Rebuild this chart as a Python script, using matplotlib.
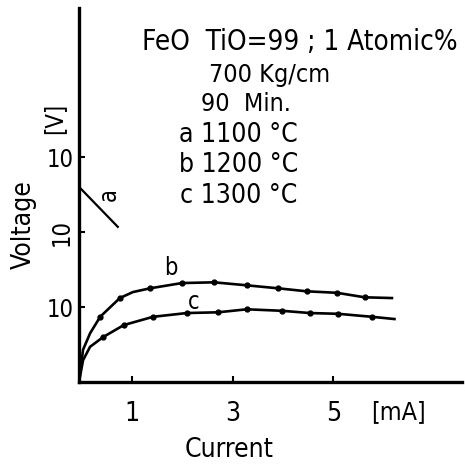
import matplotlib
matplotlib.use("Agg")
import matplotlib.pyplot as plt

plt.rcParams['font.family'] = ['DejaVu Sans']
plt.rcParams['font.stretch'] = 'condensed'

# ---- data ----
b_x = [-0.05, 0.03, 0.17, 0.37, 0.76, 1.02, 1.36, 1.99, 2.63, 3.28, 3.90, 4.47, 5.07, 5.62, 6.16]
b_y = [0.00, 0.43, 0.65, 0.87, 1.12, 1.20, 1.25, 1.32, 1.33, 1.29, 1.25, 1.21, 1.19, 1.13, 1.12]
b_marks = [3, 4, 6, 7, 8, 9, 10, 11, 12, 13]

c_x = [-0.05, 0.03, 0.17, 0.43, 0.84, 1.42, 2.09, 2.71, 3.28, 3.98, 4.53, 5.09, 5.76, 6.21]
c_y = [0.00, 0.29, 0.47, 0.60, 0.76, 0.87, 0.92, 0.93, 0.97, 0.95, 0.92, 0.91, 0.87, 0.84]
c_marks = [3, 4, 5, 6, 7, 8, 9, 10, 11, 12]

a_x = [-0.03, 0.72]
a_y = [2.59, 2.07]

x_ticks = [1, 3, 5]
x_tick_labels = ['1', '3', '5']
y_ticks = [1, 2, 3]
y_tick_labels = ['10', '10', '10']

title_lines = ['FeO  TiO=99 ; 1 Atomic%', '700 Kg/cm', '90  Min.',
               'a 1100 °C', 'b 1200 °C', 'c 1300 °C']

# ---- figure ----
W, H = 465, 470
fig = plt.figure(figsize=(W / 100, H / 100), dpi=100)
ax = fig.add_axes([79 / W, (H - 382) / H, (462 - 79) / W, (382 - 8) / H])
ax.set_xlim(-0.05, 7.55)
ax.set_ylim(0, 4.99)

ax.plot(b_x, b_y, color='black', lw=1.9, marker='o', ms=3.5, markevery=b_marks)
ax.plot(c_x, c_y, color='black', lw=1.9, marker='o', ms=3.5, markevery=c_marks)
ax.plot(a_x, a_y, color='black', lw=1.6)

for s in ['top', 'right']:
    ax.spines[s].set_visible(False)
for s in ['left', 'bottom']:
    ax.spines[s].set_linewidth(2.4)

ax.set_xticks(x_ticks)
ax.set_xticklabels(x_tick_labels, fontsize=19)
ax.set_yticks(y_ticks)
ax.set_yticklabels(y_tick_labels, fontsize=17)
ax.tick_params(axis='both', direction='in', length=4, width=1.5, pad=14)
ax.tick_params(axis='y', pad=4)
ylabels = ax.get_yticklabels()
ylabels[1].set_rotation(90)
ylabels[1].set_va('center')

def ftext(px, py, s, **kw):
    fig.text(px / W, 1 - py / H, s, ha='center', va='center', **kw)

ftext(398, 412, '[mA]', fontsize=18)
ftext(229, 450, 'Current', fontsize=19)
ftext(24, 225, 'Voltage', fontsize=19, rotation=90)
ftext(54, 118, '[V]', fontsize=17, rotation=90)

ftext(300, 42, title_lines[0], fontsize=20)
ftext(270, 75, title_lines[1], fontsize=18)
ftext(246, 104, title_lines[2], fontsize=18)
ftext(238, 135, title_lines[3], fontsize=19)
ftext(239, 165, title_lines[4], fontsize=19)
ftext(239, 196, title_lines[5], fontsize=19)

ftext(109, 195, 'a', fontsize=17, rotation=90)
ftext(171, 268, 'b', fontsize=17)
ftext(194, 302, 'c', fontsize=17)

fig.savefig('out.png', dpi=100)
